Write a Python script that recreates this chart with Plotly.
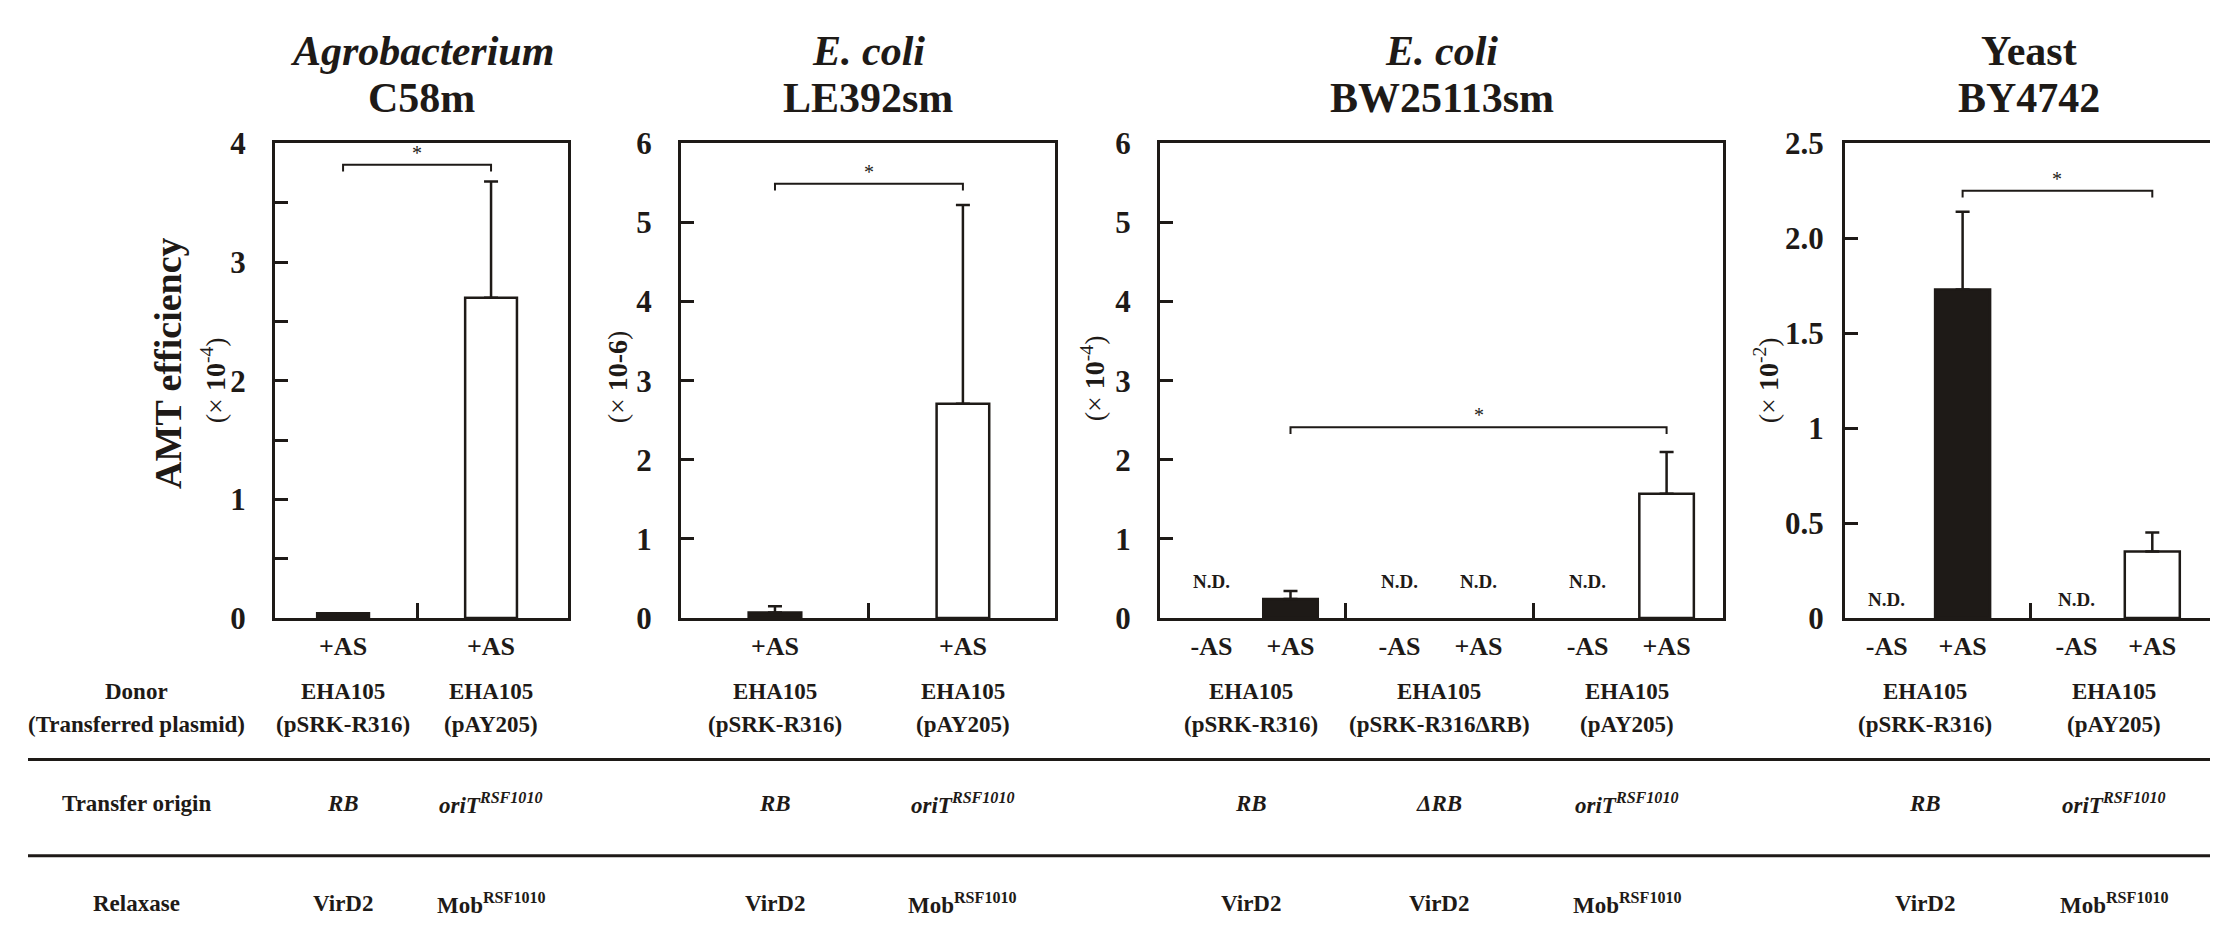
import plotly.graph_objects as go

W, H = 2218, 937
FONT = "Liberation Serif, Times New Roman, serif"
BLACK = "#1e1a17"

# ---------------- data ----------------
TITLE_LINE1 = ["<i>Agrobacterium</i>", "<i>E. coli</i>", "<i>E. coli</i>", "Yeast"]
TITLE_LINE2 = ["C58m", "LE392sm", "BW25113sm", "BY4742"]
SCALE_LABELS = ["(× <b>10</b><sup>-4</sup>)", "(× <b>10-6</b>)",
                "(× <b>10</b><sup>-4</sup>)", "(× <b>10</b><sup>-2</sup>)"]
Y_TITLE = "AMT efficiency"

# Agrobacterium C58m
P1_TREAT = ["+AS", "+AS"]
P1_GROUP = [0, 1]
P1_MEAN = [0.04, 2.70]
P1_ERR = [None, 0.98]
P1_SOLID = [True, False]

# E. coli LE392sm
P2_TREAT = ["+AS", "+AS"]
P2_GROUP = [0, 1]
P2_MEAN = [0.07, 2.71]
P2_ERR = [0.08, 2.51]
P2_SOLID = [True, False]

# E. coli BW25113sm
P3_TREAT = ["-AS", "+AS", "-AS", "+AS", "-AS", "+AS"]
P3_GROUP = [0, 0, 1, 1, 2, 2]
P3_MEAN = [None, 0.24, None, None, None, 1.57]
P3_ERR = [None, 0.10, None, None, None, 0.53]
P3_SOLID = [True, True, True, True, False, False]

# Yeast BY4742
P4_TREAT = ["-AS", "+AS", "-AS", "+AS"]
P4_GROUP = [0, 0, 1, 1]
P4_MEAN = [None, 1.73, None, 0.35]
P4_ERR = [None, 0.41, None, 0.10]
P4_SOLID = [True, True, False, False]

# significance brackets: (index a, index b, height)
P1_SIG = [(0, 1, 3.82)]
P2_SIG = [(0, 1, 5.49)]
P3_SIG = [(1, 5, 2.41)]
P4_SIG = [(1, 3, 2.25)]

# table
DONOR = "EHA105"
P1_PLASMID = ["(pSRK-R316)", "(pAY205)"]
P2_PLASMID = ["(pSRK-R316)", "(pAY205)"]
P3_PLASMID = ["(pSRK-R316)", "(pSRK-R316ΔRB)", "(pAY205)"]
P4_PLASMID = ["(pSRK-R316)", "(pAY205)"]
ORI_RB = "<i>RB</i>"
ORI_DRB = "<i>ΔRB</i>"
ORI_T = "<i>oriT<sup>RSF1010</sup></i>"
P1_ORIGIN = [ORI_RB, ORI_T]
P2_ORIGIN = [ORI_RB, ORI_T]
P3_ORIGIN = [ORI_RB, ORI_DRB, ORI_T]
P4_ORIGIN = [ORI_RB, ORI_T]
REL_V = "VirD2"
REL_M = "Mob<sup>RSF1010</sup>"
P1_RELAX = [REL_V, REL_M]
P2_RELAX = [REL_V, REL_M]
P3_RELAX = [REL_V, REL_V, REL_M]
P4_RELAX = [REL_V, REL_M]
ROW_LABELS = ["Donor", "(Transferred plasmid)", "Transfer origin", "Relaxase"]

# ---------------- layout constants ----------------
def px(x):
    return x / W

def py(y):
    return 1 - y / H

Y_TOP, Y_BOT = 123, 616
panels = [
    dict(treat=P1_TREAT, group=P1_GROUP, mean=P1_MEAN, err=P1_ERR, solid=P1_SOLID,
         sig=P1_SIG, plasmid=P1_PLASMID, origin=P1_ORIGIN, relax=P1_RELAX,
         dom=(267, 560), xr=[-0.46, 1.52], yr=[0, 4], off=0.0, bw=0.35,
         div=[0.5], yt=[0, 1, 2, 3, 4], ytt=["0", "1", "2", "3", "4"], minor=0.5,
         nd_y=None, scale_xy=(205, 369), standoff=20),
    dict(treat=P2_TREAT, group=P2_GROUP, mean=P2_MEAN, err=P2_ERR, solid=P2_SOLID,
         sig=P2_SIG, plasmid=P2_PLASMID, origin=P2_ORIGIN, relax=P2_RELAX,
         dom=(673, 1047), xr=[-0.5, 1.49], yr=[0, 6], off=0.0, bw=0.28,
         div=[0.5], yt=[0, 1, 2, 3, 4, 5, 6], ytt=[str(v) for v in range(7)], minor=None,
         nd_y=None, scale_xy=(609, 366), standoff=20),
    dict(treat=P3_TREAT, group=P3_GROUP, mean=P3_MEAN, err=P3_ERR, solid=P3_SOLID,
         sig=P3_SIG, plasmid=P3_PLASMID, origin=P3_ORIGIN, relax=P3_RELAX,
         dom=(1152, 1715), xr=[-0.484, 2.51], yr=[0, 6], off=0.21, bw=0.29,
         div=[0.5, 1.5], yt=[0, 1, 2, 3, 4, 5, 6], ytt=[str(v) for v in range(7)], minor=None,
         nd_y=0.46, scale_xy=(1085, 367), standoff=20),
    dict(treat=P4_TREAT, group=P4_GROUP, mean=P4_MEAN, err=P4_ERR, solid=P4_SOLID,
         sig=P4_SIG, plasmid=P4_PLASMID, origin=P4_ORIGIN, relax=P4_RELAX,
         dom=(1837, 2205), xr=[-0.42, 1.52], yr=[0, 2.5], off=0.2, bw=0.29,
         div=[0.56], yt=[0, 0.5, 1, 1.5, 2, 2.5], ytt=["0", "0.5", "1", "1.5", "2.0", "2.5"],
         minor=None, nd_y=0.1, scale_xy=(1758, 369), standoff=12),
]

fig = go.Figure()
annotations = []
shapes = []
layout_axes = {}


def ann(**kw):
    kw.setdefault("showarrow", False)
    kw.setdefault("xanchor", "center")
    kw.setdefault("yanchor", "middle")
    annotations.append(kw)


for i, p in enumerate(panels):
    n = i + 1
    xa = "x" if n == 1 else f"x{n}"
    ya = "y" if n == 1 else f"y{n}"
    xkey = "xaxis" if n == 1 else f"xaxis{n}"
    ykey = "yaxis" if n == 1 else f"yaxis{n}"

    # category positions
    pos = []
    for k, g in enumerate(p["group"]):
        if p["off"] == 0:
            pos.append(g)
        else:
            first = p["group"].index(g) == k
            pos.append(g - p["off"] if first else g + p["off"])

    # bars
    bx, by, be, bc = [], [], [], []
    for k in range(len(pos)):
        if p["mean"][k] is None:
            continue
        bx.append(pos[k])
        by.append(p["mean"][k])
        be.append(p["err"][k])
        bc.append(BLACK if p["solid"][k] else "white")
    fig.add_trace(go.Bar(
        x=bx, y=by, width=p["bw"], xaxis=xa, yaxis=ya,
        marker=dict(color=bc, line=dict(color=BLACK, width=2.5)),
        error_y=dict(type="data", array=be, arrayminus=[0] * len(be), symmetric=False,
                     thickness=2.5, width=7, color=BLACK),
        showlegend=False, hoverinfo="skip"))

    # px per data unit
    ppu = (Y_BOT - Y_TOP) / (p["yr"][1] - p["yr"][0])

    # significance brackets
    for a, b, h in p["sig"]:
        d = 7 / ppu
        fig.add_trace(go.Scatter(
            x=[pos[a], pos[a], pos[b], pos[b]], y=[h - d, h, h, h - d],
            mode="lines", line=dict(color=BLACK, width=2), xaxis=xa, yaxis=ya,
            showlegend=False, hoverinfo="skip"))
        ann(x=(pos[a] + pos[b]) / 2, y=h, xref=xa, yref=ya, text="*", yshift=12,
            font=dict(family=FONT, size=20, color=BLACK))

    # N.D. labels
    for k in range(len(pos)):
        if p["mean"][k] is None:
            ann(x=pos[k], y=p["nd_y"], xref=xa, yref=ya, text="<b>N.D.</b>",
                font=dict(family=FONT, size=19, color=BLACK))

    # axes
    d0, d1 = p["dom"]
    layout_axes[xkey] = dict(
        domain=[px(d0), px(d1)], range=p["xr"], anchor=ya,
        tickmode="array", tickvals=pos, ticktext=[f"<b>{t}</b>" for t in p["treat"]],
        ticks="", ticklabelstandoff=3,
        tickfont=dict(family=FONT, size=26, color=BLACK),
        showline=True, linecolor=BLACK, linewidth=3, mirror=True,
        showgrid=False, zeroline=False, fixedrange=True,
        minor=dict(tickvals=p["div"], ticks="inside", ticklen=15, tickwidth=2.5,
                   tickcolor=BLACK, showgrid=False))
    ydict = dict(
        domain=[py(Y_BOT), py(Y_TOP)], range=p["yr"], anchor=xa,
        tickmode="array", tickvals=p["yt"], ticktext=[f"<b>{t}</b>" for t in p["ytt"]],
        ticks="inside", ticklen=13, tickwidth=3, tickcolor=BLACK,
        ticklabelstandoff=p["standoff"],
        tickfont=dict(family=FONT, size=31, color=BLACK),
        showline=True, linecolor=BLACK, linewidth=3, mirror=True,
        showgrid=False, zeroline=False, fixedrange=True)
    if p["minor"]:
        ydict["minor"] = dict(dtick=p["minor"], ticks="inside", ticklen=13, tickwidth=3,
                              tickcolor=BLACK, showgrid=False)
    layout_axes[ykey] = ydict

    # titles
    cx = px((d0 + d1) / 2)
    ann(x=cx, y=py(27), xref="paper", yref="paper", text=f"<b>{TITLE_LINE1[i]}</b>",
        font=dict(family=FONT, size=42, color=BLACK))
    ann(x=cx, y=py(76), xref="paper", yref="paper", text=f"<b>{TITLE_LINE2[i]}</b>",
        font=dict(family=FONT, size=42, color=BLACK))
    # scale label
    sx, sy = p["scale_xy"]
    ann(x=px(sx), y=py(sy), xref="paper", yref="paper", text=SCALE_LABELS[i],
        textangle=-90, font=dict(family=FONT, size=28, color=BLACK))

    # table entries per group
    ngroups = max(p["group"]) + 1
    for g in range(ngroups):
        for txt, yy in [(DONOR, 692), (p["plasmid"][g], 727), (p["origin"][g], 809),
                        (p["relax"][g], 913)]:
            ann(x=g, y=py(yy), xref=xa, yref="paper", text=f"<b>{txt}</b>",
                font=dict(family=FONT, size=23, color=BLACK))

# y title
ann(x=px(160), y=py(351), xref="paper", yref="paper", text=f"<b>{Y_TITLE}</b>",
    textangle=-90, font=dict(family=FONT, size=38, color=BLACK))

# row labels
for txt, yy in zip(ROW_LABELS, [692, 727, 809, 913]):
    ann(x=px(128), y=py(yy), xref="paper", yref="paper", text=f"<b>{txt}</b>",
        font=dict(family=FONT, size=23, color=BLACK))

# table rules
for yy in [763, 863]:
    shapes.append(dict(type="line", xref="paper", yref="paper", x0=px(20), x1=px(2205),
                       y0=py(yy), y1=py(yy), line=dict(color=BLACK, width=3)))

fig.update_layout(
    width=W, height=H, margin=dict(l=0, r=0, t=0, b=0),
    paper_bgcolor="white", plot_bgcolor="white",
    barmode="overlay", showlegend=False,
    annotations=annotations, shapes=shapes,
    font=dict(family=FONT, color=BLACK),
    **layout_axes)

fig.write_html("out.html")
